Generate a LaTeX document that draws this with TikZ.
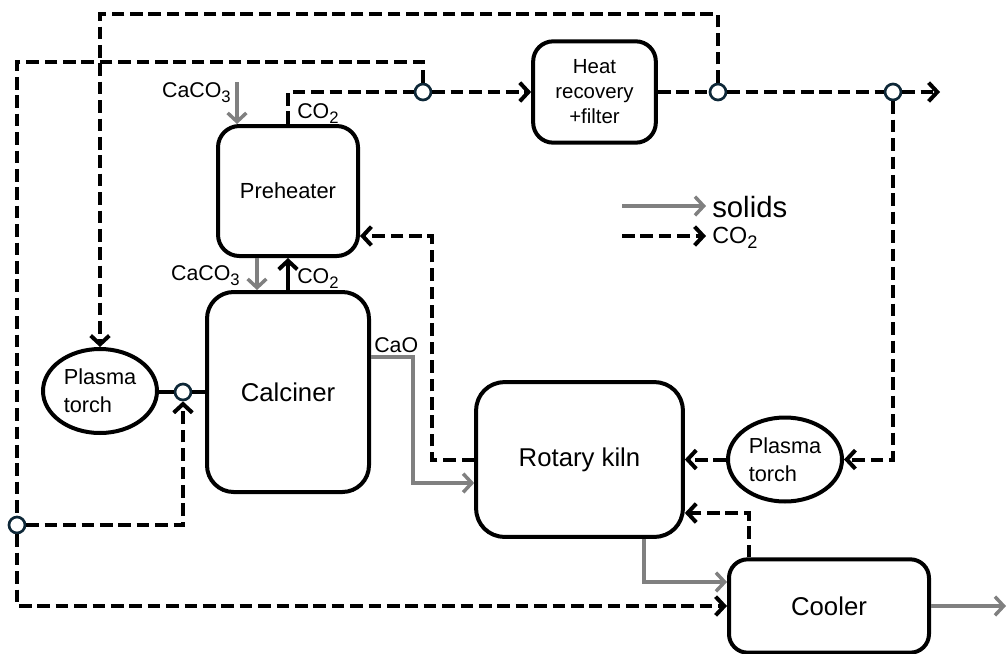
\documentclass[tikz,border=0pt]{standalone}
\usepackage{fontspec}
\setmainfont{Liberation Sans}
\usetikzlibrary{arrows.meta,shapes.geometric,calc}
\definecolor{solidgray}{RGB}{128,128,128}
\definecolor{jnavy}{RGB}{14,40,56}
\newcommand{\subsc}[1]{\raisebox{-0.45ex}{\scalebox{0.78}{#1}}}
\begin{document}
\begin{tikzpicture}[x=0.75pt,y=-0.75pt,
  procbox/.style={draw=black, line width=3pt, inner sep=0pt, align=center},
  mainfont/.style={font=\fontsize{19.3}{23}\selectfont},
  torch/.style={ellipse, draw=black, line width=3pt, inner sep=0pt,
    minimum width=85.5pt, minimum height=63pt, align=left,
    font=\fontsize{16.3}{21}\selectfont},
  junc/.style={circle, draw=jnavy, fill=white, line width=2pt,
    minimum size=12pt, inner sep=0pt},
  co2/.style={draw=black, line width=3pt, dash pattern=on 9.5pt off 4.3pt},
  sol/.style={draw=solidgray, line width=2.6pt},
  blk/.style={draw=black, line width=3pt},
  arr/.style={-{Straight Barb[length=6.5pt,width=14pt]}},
  lbl/.style={inner sep=0pt, font=\fontsize{16}{19}\selectfont}
]
\useasboundingbox (0,0) rectangle (1008,654);
\fill[white] (0,0) rectangle (1008,654);

% units
\node[procbox, minimum width=105pt, minimum height=97.5pt, rounded corners=16pt,
  font=\fontsize{16.4}{20}\selectfont] (pre) at (288,191) {Preheater};
\node[procbox, mainfont, minimum width=121.5pt, minimum height=150pt, rounded corners=20pt]
  (calc) at (288,392) {Calciner};
\node[procbox, minimum width=92pt, minimum height=76pt, rounded corners=15pt,
  font=\fontsize{15.3}{18.8}\selectfont] (heat) at (594.5,92) {Heat\\recovery\\+filter};
\node[procbox, mainfont, minimum width=155pt, minimum height=116pt, rounded corners=21pt]
  (kiln) at (579.5,459.5) {Rotary kiln};
\node[procbox, mainfont, minimum width=150pt, minimum height=70pt, rounded corners=14pt]
  (cooler) at (829,606) {Cooler};
\node[torch] (torchL) at (100,391) {Plasma\\torch};
\node[torch] (torchR) at (785,459.5) {Plasma\\torch};

% junctions
\node[junc] (J1) at (423,92) {};
\node[junc] (J2) at (718,92) {};
\node[junc] (J3) at (893,92) {};
\node[junc] (J4) at (183,392) {};
\node[junc] (J5) at (17,525) {};

% helper coordinates
\coordinate (tlc) at (100,14);
\coordinate (c62) at (17,62);
\coordinate (gout) at (940,92);
\coordinate (ka) at (432,236);
\coordinate (cb) at (749,513);
\coordinate (co) at (413,357);
\coordinate (coc) at (413,483);
\coordinate (kc) at (644,582);
\coordinate (cout) at (1006,606);
\coordinate (feed) at (237,82);
\coordinate (ms) at (257,0);

% CO2 lines
\draw[co2] (pre.north) |- (J1.west);
\draw[co2,arr] (J1.east) -- (heat.west);
\draw[co2] (heat.east) -- (J2.west);
\draw[co2] (J2.east) -- (J3.west);
\draw[co2,arr] (J3.east) -- (gout);
\draw[co2,arr] (J2.north) |- (tlc) -- (torchL.north);
\draw[co2] (J1.north) |- (c62) -- (J5.north);
\draw[co2,arr] (J5.south) |- (cooler.west);
\draw[co2,arr] (J5.east) -| (J4.south);
\draw[co2,arr] (J3.south) |- (torchR.east);
\draw[co2,arr] (torchR.west) -- (kiln.east);
\draw[co2,arr] (cb |- cooler.north) -- (cb) -- (cb -| kiln.east);
\draw[co2,arr] (kiln.west) -| (ka) -- (ka -| pre.east);
\draw[blk,arr] (calc.north) -- (pre.south);
\draw[blk] (torchL.east |- J4.west) -- (J4.west);
\draw[blk] (J4.east) -- (calc.west);

% solids
\draw[sol,arr] (feed) -- (feed |- pre.north);
\draw[sol,arr] (ms |- pre.south) -- (ms |- calc.north);
\draw[sol,arr] (co -| calc.east) -- (co) -- (coc) -- (coc -| kiln.west);
\draw[sol,arr] (kc |- kiln.south) -- (kc) -- (kc -| cooler.west);
\draw[sol,arr] (cooler.east) -- (cout);

% labels
\node[lbl, anchor=base east] (l1) at (231,97) {CaCO\subsc{3}};
\node[lbl, anchor=base west] (l2) at (297,118) {CO\subsc{2}};
\node[lbl, anchor=base east] (l3) at (240,280) {CaCO\subsc{3}};
\node[lbl, anchor=base west] (l4) at (297,283) {CO\subsc{2}};
\node[lbl, anchor=base west] (l5) at (374,352) {CaO};

% legend
\coordinate (lg1s) at (622,206);
\coordinate (lg1e) at (706,206);
\coordinate (lg2s) at (622,236);
\coordinate (lg2e) at (706,236);
\draw[sol,arr] (lg1s) -- (lg1e);
\draw[co2,arr] (lg2s) -- (lg2e);
\node[inner sep=0pt, anchor=west, font=\fontsize{22}{26}\selectfont] (lgs) at (712,207) {solids};
\node[inner sep=0pt, anchor=west, font=\fontsize{17.5}{21}\selectfont] (lgc) at (712,238) {CO\subsc{2}};
\end{tikzpicture}
\end{document}
